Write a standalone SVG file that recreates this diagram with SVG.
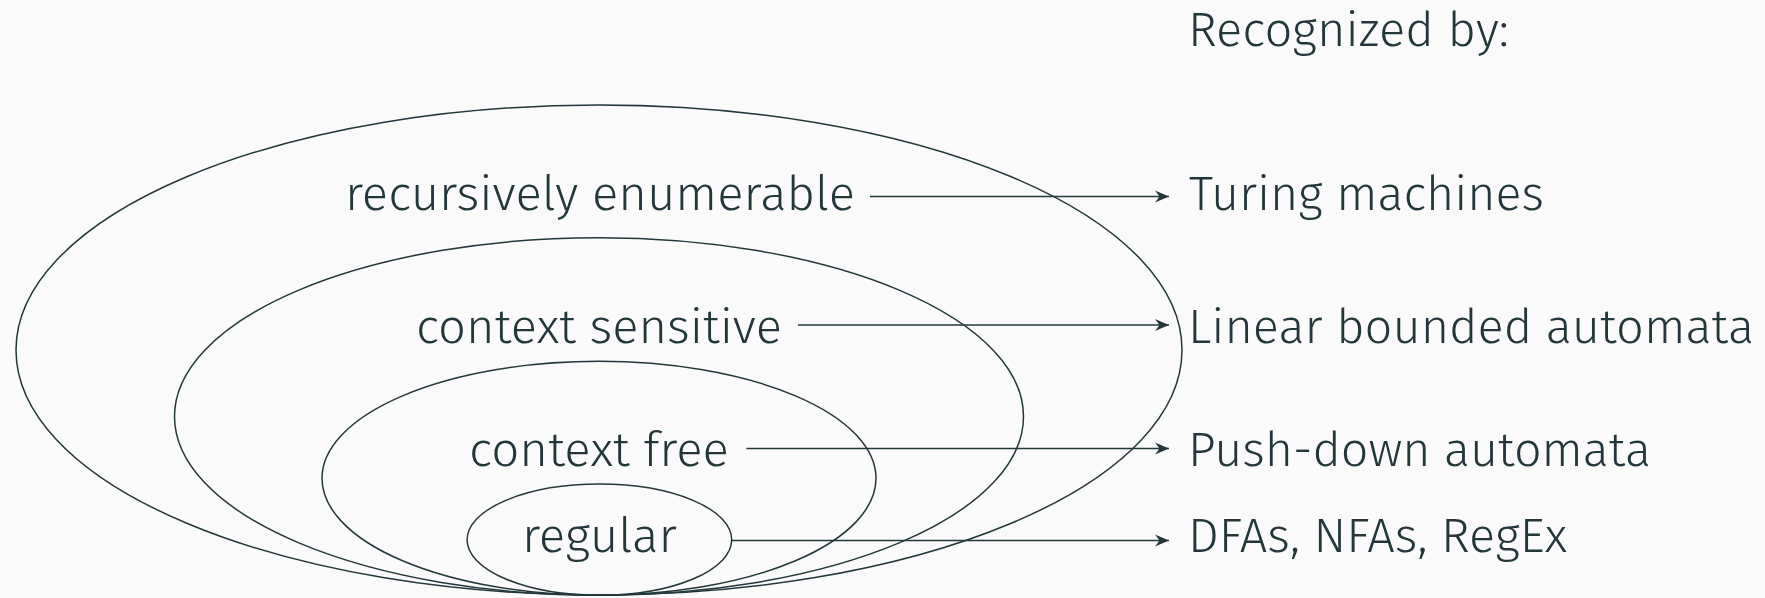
<svg xmlns="http://www.w3.org/2000/svg" width="1765" height="598" viewBox="0 0 1765 598">
  <defs>
    <style>
      .lbl { font-family: "Fira Sans", "Open Sans", "Noto Sans", sans-serif; font-weight: 300; font-size: 48px; fill: #23373b; }
      .mid { text-anchor: middle; }
      .set { fill: none; stroke: #23373b; stroke-width: 1.5; }
      .conn { fill: none; stroke: #23373b; stroke-width: 1.6; marker-end: url(#arrow); }
    </style>
    <marker id="arrow" markerUnits="userSpaceOnUse" markerWidth="20" markerHeight="16" viewBox="-16 -8 18 16" refX="0" refY="0" orient="auto">
      <path d="M0,0 L-14,-6 L-9.5,0 L-14,6 Z" fill="#23373b"/>
    </marker>
  </defs>
  <rect width="1765" height="598" fill="#fafafa"/>

  <g id="re">
    <ellipse class="set" cx="599" cy="350" rx="583" ry="245"/>
    <text class="lbl mid" x="600" y="210" textLength="510" lengthAdjust="spacingAndGlyphs">recursively enumerable</text>
  </g>
  <g id="cs">
    <ellipse class="set" cx="599" cy="416.5" rx="424.5" ry="178.8"/>
    <text class="lbl mid" x="599" y="343" textLength="366" lengthAdjust="spacingAndGlyphs">context sensitive</text>
  </g>
  <g id="cf">
    <ellipse class="set" cx="599" cy="478.3" rx="277" ry="117"/>
    <text class="lbl mid" x="599" y="466" textLength="260" lengthAdjust="spacingAndGlyphs">context free</text>
  </g>
  <g id="reg">
    <ellipse class="set" cx="599.4" cy="539.7" rx="132.3" ry="55.6"/>
    <text class="lbl mid" x="599.4" y="552.3" textLength="155" lengthAdjust="spacingAndGlyphs">regular</text>
  </g>

  <g id="header">
    <text class="lbl" x="1188" y="46" textLength="321" lengthAdjust="spacingAndGlyphs">Recognized by:</text>
  </g>
  <g id="tm">
    <text class="lbl" x="1189" y="210" textLength="355" lengthAdjust="spacingAndGlyphs">Turing machines</text>
  </g>
  <g id="lba">
    <text class="lbl" x="1188" y="343.3" textLength="566" lengthAdjust="spacingAndGlyphs">Linear bounded automata</text>
  </g>
  <g id="pda">
    <text class="lbl" x="1188" y="466" textLength="463" lengthAdjust="spacingAndGlyphs">Push-down automata</text>
  </g>
  <g id="fa">
    <text class="lbl" x="1188" y="552.3" textLength="379" lengthAdjust="spacingAndGlyphs">DFAs, NFAs, RegEx</text>
  </g>

  <g id="connectors">
    <line class="conn" x1="870" y1="196.5" x2="1169" y2="196.5"/>
    <line class="conn" x1="798" y1="325" x2="1169" y2="325"/>
    <line class="conn" x1="746.3" y1="448.5" x2="1169" y2="448.5"/>
    <line class="conn" x1="731.7" y1="540.5" x2="1169" y2="540.5"/>
  </g>
</svg>
